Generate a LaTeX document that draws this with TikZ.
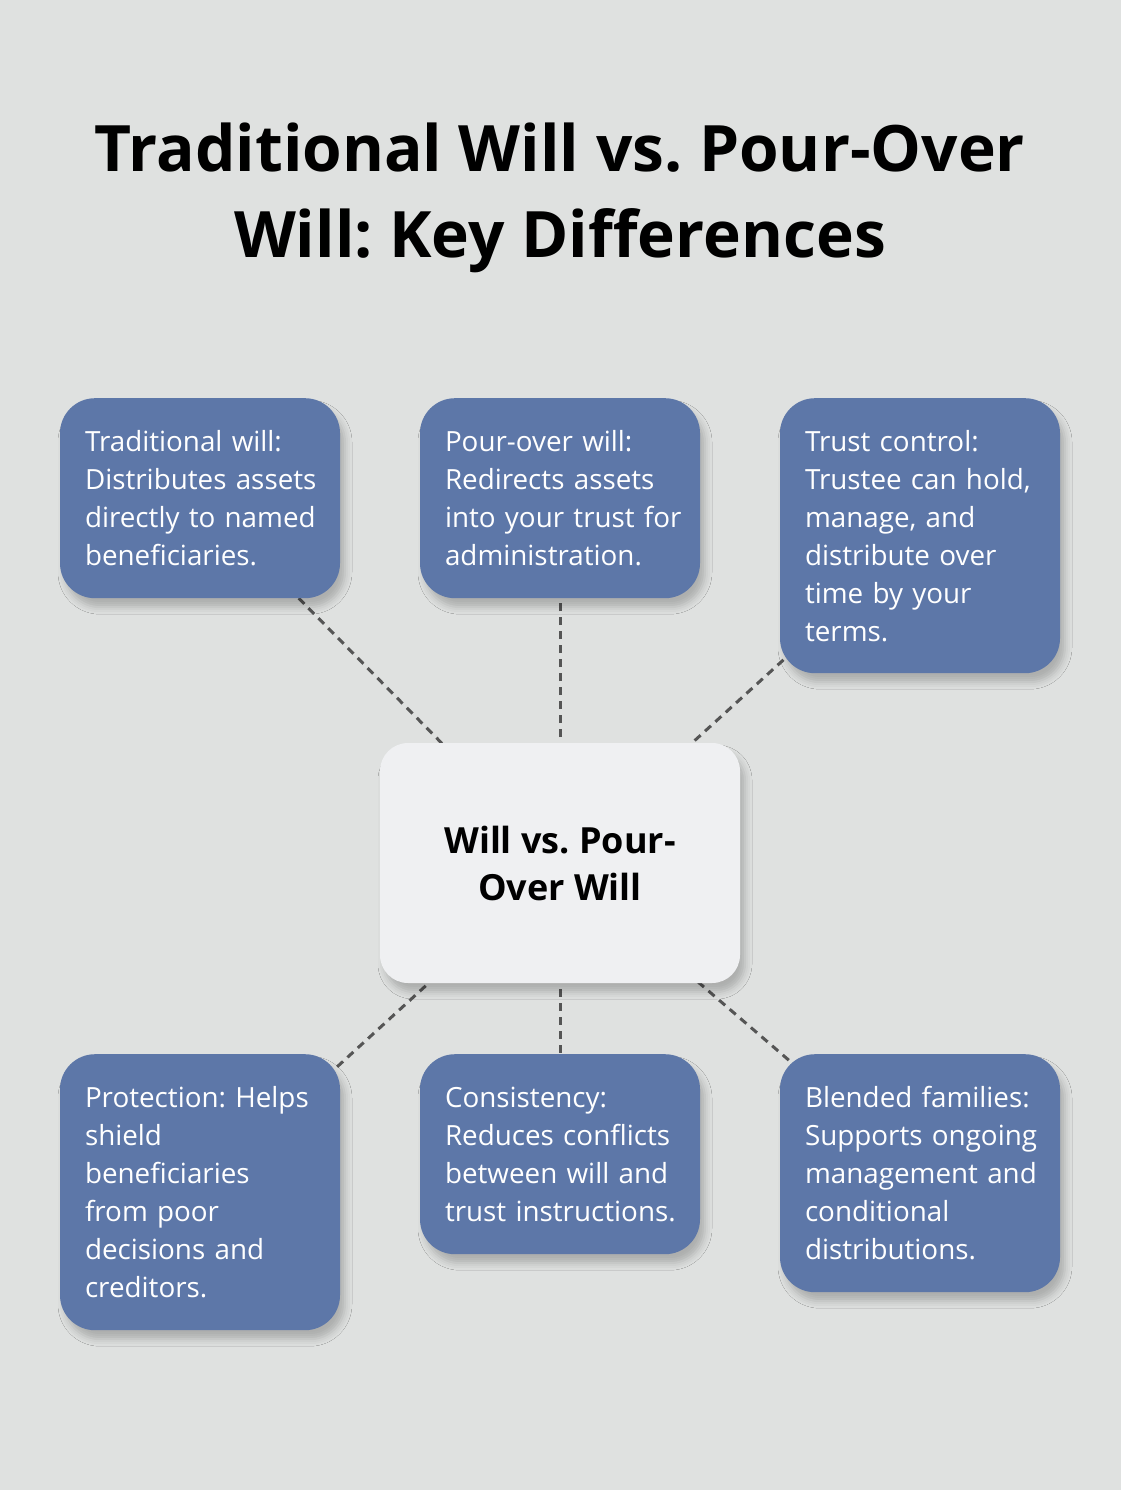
\documentclass[tikz,border=0pt]{standalone}
\usepackage{fontspec}
\setmainfont{Open Sans}
\usetikzlibrary{shadows.blur,backgrounds}
\definecolor{bg}{HTML}{DFE1E0}
\definecolor{card}{HTML}{5D77A8}
\definecolor{hubfill}{HTML}{EFF0F2}
\definecolor{link}{HTML}{555555}
\begin{document}
\begin{tikzpicture}[x=1pt,y=-1pt,
  sh/.style={blur shadow={shadow xshift=5pt,shadow yshift=-9pt,
            shadow blur radius=7pt,shadow opacity=22}},
  b/.style={sh,fill=card,text=white,rounded corners=35pt,anchor=north,
            text width=250pt,inner xsep=15pt,inner ysep=0pt,minimum height=#1,
            execute at begin node={\leftskip=10pt\parindent=0pt},
            font=\fontsize{27.8}{38}\selectfont\frenchspacing},
  c/.style={sh,fill=hubfill,rounded corners=28pt,align=center,minimum width=360pt,
            minimum height=240pt,font=\fontsize{36}{47}\selectfont\bfseries\frenchspacing},
  l/.style={draw=link,line width=3pt,dash pattern=on 8pt off 6pt}]
\useasboundingbox (0,0) rectangle (1120,1490);
\node[font=\fontsize{64}{86}\selectfont\bfseries\frenchspacing,align=center] (title)
  at (560,198) {Traditional Will vs. Pour-Over\\Will: Key Differences};
\node[c] (hub) at (560,863) {Will vs. Pour-\\Over Will};
% top row
\node[b=200pt] (trad) at (200,398) {Traditional will:\\Distributes assets\\directly to named\\beneficiaries.};
\node[b=200pt] (pour) at (560,398) {Pour-over will:\\Redirects assets\\into your trust for\\administration.};
\node[b=275pt] (ctrl) at (920,398) {Trust control:\\Trustee can hold,\\manage, and\\distribute over\\time by your\\terms.};
% bottom row
\node[b=276pt] (prot) at (200,1054) {Protection: Helps\\shield\\beneficiaries\\from poor\\decisions and\\creditors.};
\node[b=200pt] (cons) at (560,1054) {Consistency:\\Reduces conflicts\\between will and\\trust instructions.};
\node[b=238pt] (blend) at (920,1054) {Blended families:\\Supports ongoing\\management and\\conditional\\distributions.};
\begin{scope}[on background layer]
\fill[bg] (-30,-30) rectangle (1150,1520);
\foreach \n in {trad,pour,ctrl,prot,cons,blend}
  \draw[l] (hub.center) -- (\n.center);
\end{scope}
\end{tikzpicture}
\end{document}
